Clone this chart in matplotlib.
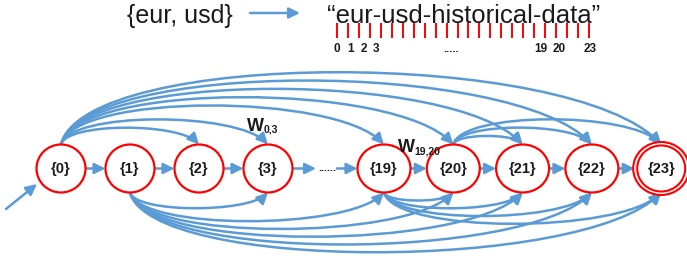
"""Automaton diagram for the key string "eur-usd-historical-data"."""
import matplotlib.pyplot as plt
from matplotlib.patches import Ellipse, FancyArrowPatch
from matplotlib.path import Path

plt.rcParams["font.family"] = ["Liberation Sans", "DejaVu Sans"]

BLUE = "#5b9bd5"
RED = "#ff0000"
BLACK = "#1a1a1a"

# --- data -------------------------------------------------------------------
source_key = "{eur, usd}"
key_string = "\u201ceur-usd-historical-data\u201d"
n_positions = 24
position_labels = [0, 1, 2, 3, 19, 20, 23]

nodes = [0, 1, 2, 3, 19, 20, 21, 22, 23]
final_node = 23
chain_edges = [(0, 1), (1, 2), (2, 3), (19, 20), (20, 21), (21, 22), (22, 23)]
top_edges = [(0, 2), (0, 3), (0, 19), (0, 20), (0, 21), (0, 22), (0, 23),
             (20, 21), (20, 22), (20, 23)]
bottom_edges = [(1, 3), (1, 19), (1, 20), (1, 21), (1, 22), (1, 23),
                (19, 20), (19, 21), (19, 22), (19, 23)]
weight_labels = [(0, 3), (19, 20)]

# --- layout -----------------------------------------------------------------
W, H = 687, 260
NODE_Y = 168.5
NODE_H = 48
TOP_DEPTH = 0.12
BOT_DEPTH = 0.112
# the digit labels under the ticks are spread a little wider than the ticks
LABEL_NUDGE = {0: 0, 1: 3, 2: 5, 3: 6, 19: -4, 20: 3, 23: 1}

fig = plt.figure(figsize=(W / 100, H / 100), dpi=100)
ax = fig.add_axes([0, 0, 1, 1])
ax.set_xlim(0, W)
ax.set_ylim(H, 0)
ax.axis("off")

slot = {n: k for k, n in enumerate(nodes)}


def node_x(n):
    k = slot[n]
    return 61 + 69 * k if k < 4 else 384 + 69.3 * (k - 4)


def node_w(n):
    return 49 if slot[n] < 4 else 53


def arrow(**kw):
    style = dict(arrowstyle="-|>,head_length=0.65,head_width=0.32",
                 mutation_scale=10, color=BLUE, lw=1.8, zorder=2)
    style.update(kw)
    ax.add_patch(FancyArrowPatch(**style))


def straight(a, b):
    arrow(posA=a, posB=b, shrinkA=0, shrinkB=0)


def arc(n0, n1, side, depth):
    x0, x1 = node_x(n0), node_x(n1)
    y = NODE_Y + side * NODE_H / 2
    dx = x1 - x0
    h = side * depth * dx / 0.75
    verts = [(x0, y), (x0 + 0.04 * dx, y + h), (x1 - 0.15 * dx, y + h), (x1, y)]
    codes = [Path.MOVETO, Path.CURVE4, Path.CURVE4, Path.CURVE4]
    arrow(path=Path(verts, codes))


# --- header: key -> string, with per-character positions --------------------
ax.text(180, 23, source_key, fontsize=18, color=BLACK, ha="center", va="baseline")
straight((250, 13), (300, 13))
ax.text(464, 23, key_string, fontsize=18.5, color=BLACK, ha="center", va="baseline")

TICK_X0, TICK_X1 = 337, 589
step = (TICK_X1 - TICK_X0) / (n_positions - 1)
for i in range(n_positions):
    x = TICK_X0 + i * step
    ax.plot([x, x], [23, 38], color=RED, lw=1.4, solid_capstyle="butt")
for i in position_labels:
    ax.text(TICK_X0 + i * step + LABEL_NUDGE[i], 52, str(i), fontsize=8.5,
            fontweight="bold", color=BLACK, ha="center", va="baseline")
ax.text(451, 52, ".....", fontsize=8, fontweight="bold", color=BLACK,
        ha="center", va="baseline")

# --- edges ------------------------------------------------------------------
for a, b in top_edges:
    arc(a, b, -1, TOP_DEPTH)
for a, b in bottom_edges:
    arc(a, b, 1, BOT_DEPTH)
for a, b in chain_edges:
    straight((node_x(a) + node_w(a) / 2, NODE_Y), (node_x(b) - node_w(b) / 2, NODE_Y))

# elided middle of the chain
straight((node_x(3) + node_w(3) / 2, NODE_Y), (316, NODE_Y))
ax.text(327, NODE_Y + 2.5, "......", fontsize=7.5, fontweight="bold", color=BLACK,
        ha="center", va="baseline")
straight((337, NODE_Y), (node_x(19) - node_w(19) / 2, NODE_Y))

# start arrow
straight((6, 209), (37, 184))

# --- nodes ------------------------------------------------------------------
for n in nodes:
    x = node_x(n)
    if n == final_node:
        ax.add_patch(Ellipse((x, NODE_Y), 56, 53, facecolor="white",
                             edgecolor=RED, lw=1.5, zorder=3))
        ax.add_patch(Ellipse((x, NODE_Y), 48, 46, facecolor="white",
                             edgecolor=RED, lw=1.5, zorder=3))
    else:
        ax.add_patch(Ellipse((x, NODE_Y), node_w(n), NODE_H, facecolor="white",
                             edgecolor=RED, lw=1.6, zorder=3))
    ax.text(x, NODE_Y, "{%d}" % n, fontsize=10.5, fontweight="bold", color=BLACK,
            ha="center", va="center", zorder=4)

# --- edge weights -----------------------------------------------------------
w_pos = {(0, 3): (node_x(3) - 13, 125), (19, 20): (node_x(19) + 22, 146)}
for a, b in weight_labels:
    x, y = w_pos[(a, b)]
    ax.text(x, y + 6, "W", fontsize=13, fontweight="bold", color=BLACK,
            ha="center", va="baseline", zorder=4)
    ax.text(x + 8.5, y + 8, "%d,%d" % (a, b), fontsize=7.5, fontweight="bold",
            color=BLACK, ha="left", va="baseline", zorder=4)

fig.savefig("out.png", dpi=100, facecolor="white")
